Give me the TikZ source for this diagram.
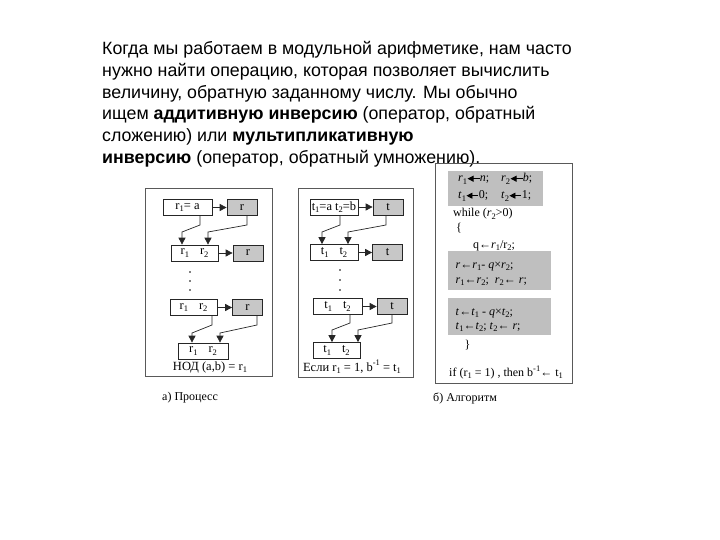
\documentclass[tikz,border=0pt]{standalone}
\usepackage{fontspec}
\setmainfont{Liberation Sans}
\newfontfamily\tms{Liberation Serif}
\usetikzlibrary{arrows.meta}
\newcommand\sbs[1]{\raisebox{-0.45ex}{\fontsize{8.5}{9}\selectfont #1}}
\newcommand\sps[1]{\raisebox{0.9ex}{\fontsize{8.5}{9}\selectfont #1}}
\newcommand\hla{\tikz[baseline=-0.6ex]\draw[line width=0.8pt,{Triangle[length=6pt,width=6pt]}-](0pt,0pt)--(12pt,0pt);}
\tikzset{
 box/.style={draw=black!85, line width=0.7pt, fill=white, minimum height=16pt, inner sep=0pt, font=\tms\fontsize{12.5}{14}\selectfont},
 gbox/.style={box, fill=black!22, minimum width=30pt},
 arr/.style={draw=black!85, line width=0.7pt, -{Triangle[length=7pt,width=7pt]}},
 frame/.style={draw=black!65, line width=0.8pt},
 body/.style={anchor=base west, inner sep=0pt, font=\fontsize{17.8}{20}\selectfont},
 dtext/.style={inner sep=0pt, font=\tms\fontsize{12.5}{14}\selectfont},
 code/.style={anchor=base west, inner sep=0pt, font=\tms\fontsize{12}{14}\selectfont},
 captext/.style={anchor=base west, inner sep=0pt, font=\tms\fontsize{12}{14}\selectfont},
 hl/.style={fill=black!25},
 dotm/.style={circle, fill=black, inner sep=0pt, minimum size=1.8pt}
}
\begin{document}
\begin{tikzpicture}[x=1pt,y=-1pt]
\useasboundingbox (0,0) rectangle (720,540);
% body text
\node[body] (t1) at (102,55) {Когда мы работаем в модульной арифметике, нам часто};
\node[body] (t2) at (102,76.7) {нужно найти операцию, которая позволяет вычислить};
\node[body] (t3) at (102,98.3) {величину, обратную заданному числу. Мы обычно};
\node[body] (t4) at (102,120) {ищем \textbf{аддитивную инверсию} (оператор, обратный};
\node[body] (t5) at (102,141.7) {сложению) или \textbf{мультипликативную}};
\node[body] (t6) at (102,163.3) {\textbf{инверсию} (оператор, обратный умножению).};

% left panel
\draw[frame] (145,188) rectangle (272,376);
\node[box, minimum width=49pt] (a1) at (187.5,207.5) {r\sbs{1}= a};
\node[gbox] (g1) at (242,207.5) {r};
\node[box, minimum width=47pt] (a2) at (194.5,253) {r\sbs{1}\hspace{11pt}r\sbs{2}};
\node[gbox] (g2) at (248,253) {r};
\node[box, minimum width=47pt] (a3) at (193.5,307.5) {r\sbs{1}\hspace{11pt}r\sbs{2}};
\node[gbox] (g3) at (247.5,307.5) {r};
\node[box, minimum width=50pt] (a4) at (203,351) {r\sbs{1}\hspace{11pt}r\sbs{2}};
\node[dotm] (ad1) at (190,272) {};
\node[dotm] (ad2) at (190,281) {};
\node[dotm] (ad3) at (190,290) {};
\node[dtext] (la) at (210,367) {НОД (a,b) = r\sbs{1}};
\draw[arr] (a1) -- (g1);
\draw[arr] (a2) -- (g2);
\draw[arr] (a3) -- (g3);
\draw[arr] (a1.south -| 200,0) -- (200,225) -- (182,232) -- (a2.north -| 182,0);
\draw[arr] (g1.south -| 247,0) -- (247,225) -- (208,232) -- (a2.north -| 208,0);
\draw[arr] (a3.south -| 212,0) -- (212,325) -- (192,333) -- (a4.north -| 192,0);
\draw[arr] (g3.south -| 257,0) -- (257,325) -- (220,333) -- (a4.north -| 220,0);
\node[captext] (ca) at (162,400) {а) Процесс};

% middle panel
\draw[frame] (298,188) rectangle (413,377);
\node[box, minimum width=48pt] (b1) at (334,207) {t\sbs{1}=a t\sbs{2}=b};
\node[gbox] (h1) at (388,207) {t};
\node[box, minimum width=48pt] (b2) at (334,252.5) {t\sbs{1}\hspace{11pt}t\sbs{2}};
\node[gbox] (h2) at (387.5,252.5) {t};
\node[box, minimum width=49pt] (b3) at (337.5,306.5) {t\sbs{1}\hspace{11pt}t\sbs{2}};
\node[gbox] (h3) at (392,306.5) {t};
\node[box, minimum width=47pt] (b4) at (336.5,350.5) {t\sbs{1}\hspace{11pt}t\sbs{2}};
\node[dotm] (bd1) at (340,270) {};
\node[dotm] (bd2) at (340,280) {};
\node[dotm] (bd3) at (340,290) {};
\node[dtext] (lb) at (352,367) {Если r\sbs{1} = 1, b\sps{-1} = t\sbs{1}};
\draw[arr] (b1) -- (h1);
\draw[arr] (b2) -- (h2);
\draw[arr] (b3) -- (h3);
\draw[arr] (b1.south -| 340,0) -- (340,225) -- (322,232) -- (b2.north -| 322,0);
\draw[arr] (h1.south -| 386,0) -- (386,225) -- (348,232) -- (b2.north -| 348,0);
\draw[arr] (b3.south -| 350,0) -- (350,323) -- (332,330) -- (b4.north -| 332,0);
\draw[arr] (h3.south -| 392,0) -- (392,323) -- (358,330) -- (b4.north -| 358,0);

% right panel
\draw[frame] (435.5,163) rectangle (572,383);
\fill[hl] (448,171) rectangle (543,206);
\fill[hl] (448,251) rectangle (551,290);
\fill[hl] (448,298) rectangle (551,335);
\node[code] (c1) at (458,182) {\textit{r}\sbs{1}\hla\textit{n};};
\node[code] (c2) at (501,182) {\textit{r}\sbs{2}\hla\textit{b};};
\node[code] (c3) at (458,199) {\textit{t}\sbs{1}\hla 0;};
\node[code] (c4) at (501,199) {\textit{t}\sbs{2}\hla 1;};
\node[code] (c5) at (453,217) {while (\textit{r}\sbs{2}>0)};
\node[code] (c6) at (456,232) {\{};
\node[code] (c7) at (473,248) {q←\textit{r}\sbs{1}/r\sbs{2};};
\node[code] (c8) at (455.5,268) {\textit{r}←\textit{r}\sbs{1}- \textit{q}×\textit{r}\sbs{2};};
\node[code] (c9) at (455.5,283) {\textit{r}\sbs{1}←\textit{r}\sbs{2}; \ \textit{r}\sbs{2}← \textit{r};};
\node[code] (c10) at (455.5,315) {\textit{t}←\textit{t}\sbs{1} - \textit{q}×\textit{t}\sbs{2};};
\node[code] (c11) at (455.5,329) {\textit{t}\sbs{1}←\textit{t}\sbs{2}; \textit{t}\sbs{2}← \textit{r};};
\node[code] (c12) at (464.5,348) {\}};
\node[code] (c13) at (449,376) {if (r\sbs{1} = 1) , then b\sps{-1}← t\sbs{1}};
\node[captext] (cb) at (433,401) {б) Алгоритм};
\end{tikzpicture}
\end{document}
